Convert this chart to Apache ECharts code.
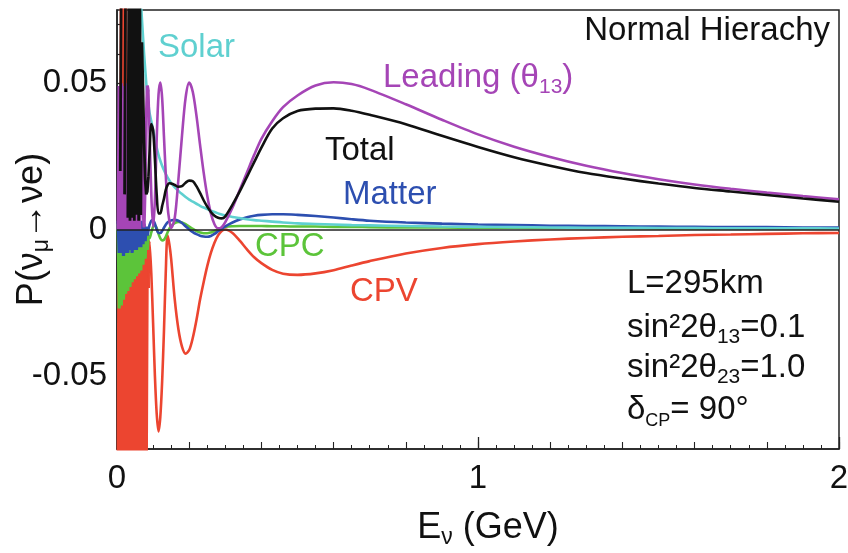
<!DOCTYPE html>
<html>
<head>
<meta charset="utf-8">
<script src="https://cdn.jsdelivr.net/npm/echarts@6/dist/echarts.min.js"></script>
<style>
html, body { margin: 0; padding: 0; background: #fff; }
#chart { width: 848px; height: 553px; }
</style>
</head>
<body>
<div id="chart"></div>
<script>
// fast-oscillation region at low energy (GeV)
const energyDense = [0.003, 0.006, 0.009, 0.012, 0.015, 0.018, 0.021, 0.024, 0.027, 0.030,
	0.033, 0.036, 0.039, 0.042, 0.045, 0.048, 0.051, 0.054, 0.057, 0.060,
	0.063, 0.066, 0.069, 0.072, 0.075, 0.078, 0.081, 0.084, 0.087];
const cpvDense = [-0.085, 0.02, -0.085, 0.085, -0.085, 0.085, -0.085, 0.085, -0.085, 0.0,
	-0.085, 0.0, -0.085, -0.001, -0.085, 0.0, -0.085, -0.002, -0.085, 0.0,
	-0.085, -0.002, -0.085, 0.0, -0.085, -0.003, -0.085, -0.002, -0.02];
const cpcDense = [0.002, -0.027, 0.003, -0.026, 0.002, -0.024, 0.003, -0.022, 0.002, -0.021,
	0.003, -0.0196, 0.002, -0.018, 0.003, -0.017, 0.002, -0.016, 0.002, -0.015,
	0.002, -0.014, 0.001, -0.012, 0.001, -0.01, 0.0, -0.007, -0.002];
const matterDense = [0.003, -0.008, 0.004, -0.008, 0.003, -0.009, 0.004, -0.008, 0.003, -0.008,
	0.004, -0.007, 0.003, -0.008, 0.004, -0.007, 0.003, -0.007, 0.004, -0.006,
	0.003, -0.006, 0.003, -0.005, 0.002, -0.004, 0.001, -0.002, 0.0];
const solarDense = [null, null, null, null, null, null, null, null, null, null,
	null, null, null, null, null, null, null, null, null, null,
	0.085, 0.078, 0.072, 0.066, 0.06, 0.055, 0.05, 0.046, 0.043];
const leadingDense = [0.0, 0.049, 0.0, 0.05, 0.0, 0.049, 0.0, 0.05, 0.0, 0.049,
	0.0, 0.05, 0.0, 0.049, 0.0, 0.05, 0.0, 0.049, 0.0, 0.05,
	0.0, 0.049, 0.034, 0.0077, 0.0007, 0.0155, 0.037, 0.0492, 0.047];
const totalDense = [null, null, 0.02, 0.09, null, null, 0.012, 0.09, null, 0.004,
	0.09, 0.003, 0.09, 0.004, 0.09, 0.003, 0.09, 0.005, 0.09, 0.003,
	0.09, 0.005, 0.064, 0.048, 0.03, 0.017, 0.012, 0.013, 0.018];

// smooth part
const energy = [0.087, 0.09, 0.095, 0.1, 0.105, 0.11, 0.115, 0.12, 0.125, 0.13, 0.135, 0.14, 0.145, 0.15,
	0.16, 0.17, 0.18, 0.19, 0.2, 0.21, 0.22, 0.23, 0.24, 0.25, 0.26, 0.27, 0.28, 0.29, 0.3,
	0.32, 0.34, 0.36, 0.38, 0.4,
	0.43, 0.46, 0.5, 0.55, 0.6, 0.65, 0.7,
	0.8, 0.9, 1.0, 1.1, 1.2, 1.3, 1.4, 1.5, 1.6, 1.7, 1.8, 1.9, 2.0];
const cpv = [-0.02, -0.004, -0.015, -0.032, -0.05, -0.063, -0.069, -0.064, -0.052, -0.035, -0.015, -0.002, -0.005, -0.01,
	-0.024, -0.034, -0.04, -0.0424, -0.0412, -0.037, -0.031, -0.024, -0.018, -0.0125, -0.008, -0.0045, -0.002, -0.0005, 0.0,
	-0.0012, -0.0038, -0.0068, -0.0095, -0.0115,
	-0.0138, -0.0151, -0.0155, -0.015, -0.0139, -0.0123, -0.0108,
	-0.0082, -0.0063, -0.005, -0.0041, -0.0034, -0.0029, -0.0025, -0.0022, -0.0019, -0.0017, -0.0015, -0.0013, -0.0012];
const cpc = [-0.002, -0.003, -0.001, 0.001, 0.0015, 0.0005, -0.0015, -0.003, -0.0037, -0.0035, -0.0025, -0.001, 0.0003, 0.0012,
	0.0022, 0.0026, 0.0024, 0.0018, 0.001, 0.0002, -0.0005, -0.001, -0.0013, -0.0013, -0.001, -0.0005, 0.0, 0.0006, 0.0009,
	0.0011, 0.0012, 0.0012, 0.0012, 0.0012,
	0.0011, 0.0011, 0.001, 0.001, 0.0009, 0.0009, 0.0008,
	0.0007, 0.0007, 0.0006, 0.0006, 0.0005, 0.0005, 0.0005, 0.0004, 0.0004, 0.0004, 0.0004, 0.0003, 0.0003];
const matter = [0.0, 0.0015, 0.003, 0.0032, 0.002, 0.0, -0.0012, -0.0012, -0.0005, 0.0006, 0.0016, 0.0024, 0.0029, 0.0031,
	0.0033, 0.003, 0.0022, 0.0011, 0.0, -0.0009, -0.0016, -0.0021, -0.0024, -0.0025, -0.0022, -0.0015, -0.0006, 0.0003, 0.0011,
	0.0024, 0.0034, 0.0042, 0.0047, 0.005,
	0.0052, 0.0052, 0.005, 0.0046, 0.0041, 0.0035, 0.003,
	0.0024, 0.002, 0.0017, 0.0015, 0.0013, 0.0012, 0.0011, 0.001, 0.0009, 0.0008, 0.0008, 0.0007, 0.0007];
const solar = [0.043, 0.04, 0.037, 0.034, 0.031, 0.028, 0.0255, 0.0235, 0.0218, 0.0203, 0.019, 0.0178, 0.0168, 0.0158,
	0.0144, 0.0132, 0.0121, 0.0111, 0.0102, 0.0095, 0.0088, 0.0081, 0.0075, 0.007, 0.0064, 0.006, 0.0055, 0.0051, 0.0048,
	0.0043, 0.0039, 0.0035, 0.0032, 0.003,
	0.0027, 0.0024, 0.0021, 0.0019, 0.0017, 0.0015, 0.0014,
	0.0012, 0.001, 0.0009, 0.0008, 0.0007, 0.0006, 0.0006, 0.0005, 0.0005, 0.0004, 0.0004, 0.0004, 0.0003];
const leading = [0.047, 0.034, 0.012, 0.001, 0.01, 0.031, 0.046, 0.0502, 0.045, 0.032, 0.019, 0.008, 0.003, 0.0005,
	0.004, 0.017, 0.032, 0.045, 0.0502, 0.047, 0.039, 0.029, 0.0195, 0.0115, 0.0055, 0.0018, 0.0004, 0.0008, 0.0025,
	0.0075, 0.0135, 0.0195, 0.0255, 0.031,
	0.037, 0.0418, 0.0458, 0.0492, 0.0503, 0.0497, 0.0478,
	0.0428, 0.0375, 0.0325, 0.0283, 0.0248, 0.0218, 0.0193, 0.0172, 0.0154, 0.0139, 0.0126, 0.0114, 0.0103];
const total = [0.018, 0.026, 0.036, 0.034, 0.024, 0.012, 0.0055, 0.0055, 0.008, 0.0105, 0.0135, 0.0152, 0.0158, 0.0157,
	0.0152, 0.0146, 0.0148, 0.016, 0.0167, 0.0165, 0.0148, 0.0125, 0.01, 0.0078, 0.006, 0.0047, 0.004, 0.0038, 0.0045,
	0.0085, 0.013, 0.018, 0.023, 0.028,
	0.0345, 0.038, 0.0405, 0.0413, 0.0414, 0.0406, 0.0392,
	0.036, 0.032, 0.0282, 0.0247, 0.0218, 0.0193, 0.0174, 0.0157, 0.0142, 0.013, 0.0118, 0.0106, 0.0095];

const xTickLabels = [0, 1, 2];
const yMajorTicks = [-0.05, 0, 0.05];
const yMinorTicks = [-0.07, -0.06, -0.04, -0.03, -0.02, -0.01, 0.01, 0.02, 0.03, 0.04, 0.06, 0.07];

const FONT = '"Liberation Sans", Arial, Helvetica, sans-serif';
const FS = 33;      // tick labels and annotations
const TITLE_FS = 36; // axis titles
const colors = {
	cpv: '#ec4530',
	cpc: '#5cc43a',
	matter: '#2d4fb0',
	solar: '#5fd0d0',
	leading: '#a545b6',
	total: '#111111'
};

const zip = (xs, ys) => xs.map((x, i) => [x, ys[i]]);

function curve(name, xs, ys, color, width, smooth) {
	return {
		name: name,
		type: 'line',
		data: zip(xs, ys),
		symbol: 'none',
		smooth: smooth,
		clip: true,
		silent: true,
		lineStyle: {color: color, width: width, join: 'bevel'},
		itemStyle: {color: color},
	};
}

function label(x, y, text, color, align) {
	return {
		type: 'text',
		x: x,
		y: y,
		silent: true,
		style: {
			text: text,
			fill: color,
			fontSize: FS,
			fontFamily: FONT,
			align: align || 'left',
			verticalAlign: 'middle',
			rich: {
				a: {fontSize: FS, lineHeight: 40, fontFamily: FONT, fill: color},
				s: {fontSize: 21, lineHeight: 21, verticalAlign: 'bottom', fontFamily: FONT, fill: color},
				t: {fontSize: 18, lineHeight: 18, verticalAlign: 'bottom', fontFamily: FONT, fill: color},
			}
		}
	};
}

const titleRich = {
	a: {fontSize: TITLE_FS, lineHeight: 42, fontFamily: FONT, color: '#111'},
	s: {fontSize: 23, lineHeight: 22, verticalAlign: 'bottom', fontFamily: FONT, color: '#111'}
};

const chart = echarts.init(document.getElementById('chart'), null, {renderer: 'canvas'});

const series = [
	curve('CPV', energyDense, cpvDense, colors.cpv, 3.2, false),
	curve('CPV', energy, cpv, colors.cpv, 2.6, 0.3),
	curve('CPC', energyDense, cpcDense, colors.cpc, 3.2, false),
	curve('CPC', energy, cpc, colors.cpc, 2.6, 0.3),
	curve('Matter', energyDense, matterDense, colors.matter, 3.2, false),
	curve('Matter', energy, matter, colors.matter, 2.6, 0.3),
	curve('Solar', energyDense, solarDense, colors.solar, 2.6, false),
	curve('Solar', energy, solar, colors.solar, 2.6, 0.3),
	curve('Leading', energyDense, leadingDense, colors.leading, 3.2, false),
	curve('Leading', energy, leading, colors.leading, 2.6, 0.3),
	curve('Total', energyDense, totalDense, colors.total, 2.8, false),
	curve('Total', energy, total, colors.total, 2.6, 0.3),
];
// horizontal line at zero
series[series.length - 1].markLine = {
	silent: true,
	symbol: 'none',
	label: {show: false},
	lineStyle: {color: '#222', width: 1.5, type: 'solid'},
	data: [{yAxis: 0}]
};

chart.setOption({
	animation: false,
	backgroundColor: '#fff',
	textStyle: {fontFamily: FONT},
	grid: {
		left: 117, right: 9, top: 10, bottom: 104,
		containLabel: false,
		outerBoundsMode: 'none',
		show: true, borderColor: '#222', borderWidth: 1.5, backgroundColor: 'transparent'
	},
	xAxis: [
		{
			type: 'value', min: 0, max: 2, interval: 1, position: 'bottom',
			axisLine: {show: true, onZero: false, lineStyle: {color: '#222', width: 1.5}},
			axisTick: {show: true, inside: true, length: 12, lineStyle: {color: '#222', width: 1.3}},
			minorTick: {show: true, splitNumber: 20, length: 4, lineStyle: {color: '#222', width: 1}},
			splitLine: {show: false},
			axisLabel: {
				color: '#111', fontSize: FS, fontFamily: FONT, margin: 13,
				customValues: xTickLabels,
				formatter: v => String(v)
			},
			name: '{a|E}{s|ν}{a| (GeV)}',
			nameLocation: 'middle',
			nameGap: 58,
			nameMoveOverlap: false,
			nameTextStyle: {color: '#111', padding: [0, 0, 0, 20], rich: titleRich}
		},
		{
			type: 'value', min: 0, max: 2, interval: 0.2, position: 'bottom',
			axisLine: {show: false, onZero: false},
			axisTick: {show: true, inside: true, length: 7, lineStyle: {color: '#222', width: 1.1}},
			axisLabel: {show: false},
			splitLine: {show: false}
		}
	],
	yAxis: [
		{
			type: 'value', min: -0.075, max: 0.075, position: 'left',
			axisLine: {show: true, onZero: false, lineStyle: {color: '#222', width: 1.5}},
			axisTick: {show: true, inside: true, length: 21, customValues: yMajorTicks, lineStyle: {color: '#222', width: 1.3}},
			axisLabel: {
				color: '#111', fontSize: FS, fontFamily: FONT, margin: 10,
				customValues: yMajorTicks,
				formatter: v => (v === 0 ? '0' : String(v))
			},
			splitLine: {show: false},
			name: '{a|P(ν}{s|μ}{a|→νe)}',
			nameLocation: 'middle',
			nameRotate: 90,
			nameGap: 64,
			nameMoveOverlap: false,
			nameTextStyle: {color: '#111', rich: titleRich}
		},
		{
			type: 'value', min: -0.075, max: 0.075, position: 'left',
			axisLine: {show: false, onZero: false},
			axisTick: {show: true, inside: true, length: 10, customValues: yMinorTicks, lineStyle: {color: '#222', width: 1.2}},
			axisLabel: {show: false},
			splitLine: {show: false}
		}
	],
	series: series,
	graphic: [
		label(830, 31, 'Normal Hierachy', '#111', 'right'),
		label(158, 48, 'Solar', colors.solar),
		label(383, 78, '{a|Leading (θ}{s|13}{a|)}', colors.leading),
		label(325, 151, 'Total', '#111'),
		label(343, 195, 'Matter', colors.matter),
		label(255, 247, 'CPC', colors.cpc),
		label(350, 292, 'CPV', colors.cpv),
		label(627, 284, 'L=295km', '#111'),
		label(627, 328, '{a|sin²2θ}{s|13}{a|=0.1}', '#111'),
		label(627, 368, '{a|sin²2θ}{s|23}{a|=1.0}', '#111'),
		label(627, 410, '{a|δ}{t|CP}{a|= 90°}', '#111'),
	]
});
</script>
</body>
</html>
